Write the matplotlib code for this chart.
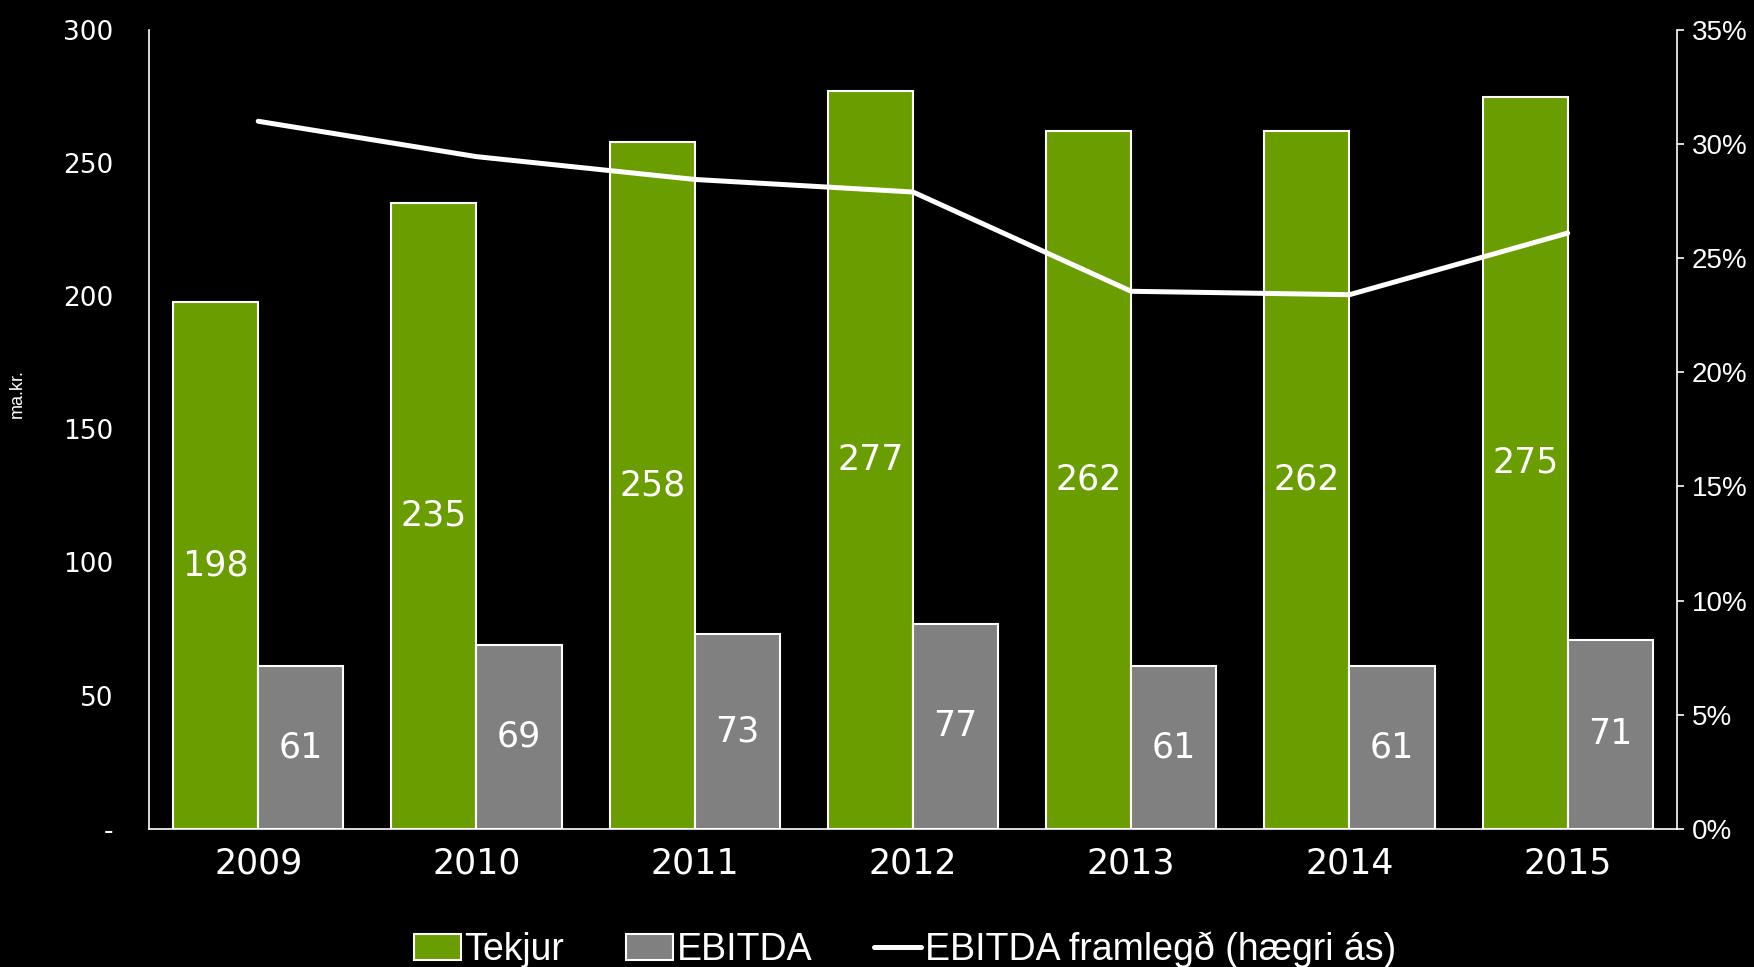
import matplotlib
matplotlib.use("Agg")
import matplotlib.pyplot as plt
import numpy as np
from matplotlib.ticker import FuncFormatter, MultipleLocator

years = ["2009", "2010", "2011", "2012", "2013", "2014", "2015"]
tekjur = [198, 235, 258, 277, 262, 262, 275]
ebitda = [61, 69, 73, 77, 61, 61, 71]
framlegd = [31.0, 29.45, 28.45, 27.9, 23.55, 23.4, 26.1]  # % (right axis)

GREEN = "#6a9e00"
GRAY = "#808080"
BG = "black"
FG = "white"

fig = plt.figure(figsize=(17.54, 9.67), dpi=100, facecolor=BG)
ax = fig.add_axes([0.085, 0.143, 0.871, 0.826])
ax.set_facecolor(BG)
ax2 = ax.twinx()

x = np.arange(len(years))
w = 0.39
b1 = ax.bar(x - w / 2, tekjur, w, color=GREEN, edgecolor=FG, lw=1.5, label="Tekjur", zorder=2)
b2 = ax.bar(x + w / 2, ebitda, w, color=GRAY, edgecolor=FG, lw=1.5, label="EBITDA", zorder=2)

for rects, vals in ((b1, tekjur), (b2, ebitda)):
    for r, v in zip(rects, vals):
        ax.text(r.get_x() + r.get_width() / 2, v / 2, str(v), ha="center", va="center",
                color=FG, fontsize=25, family="DejaVu Sans")

ln, = ax2.plot(x, framlegd, color=FG, lw=3.6, solid_capstyle="round",
               label="EBITDA framlegð (hægri ás)", zorder=3)

ax.set_xlim(-0.5, len(years) - 0.5)
ax.set_ylim(0, 300)
ax2.set_ylim(0, 35)
ax.yaxis.set_major_locator(MultipleLocator(50))
ax.yaxis.set_major_formatter(FuncFormatter(lambda v, p: "-" if v == 0 else f"{v:.0f}"))
ax2.yaxis.set_major_locator(MultipleLocator(5))
ax2.yaxis.set_major_formatter(FuncFormatter(lambda v, p: f"{v:.0f}%"))

ax.set_xticks(x)
ax.set_xticklabels(years)
ax.tick_params(axis="x", length=0, pad=13, labelsize=25, colors=FG)
ax.tick_params(axis="y", length=0, pad=26, labelsize=19, colors=FG)
for t in ax.get_yticklabels() + ax.get_xticklabels():
    t.set_family("DejaVu Sans")
ax2.tick_params(axis="y", length=5, width=1.2, pad=6, labelsize=20, colors=FG)
for t in ax2.get_yticklabels():
    t.set_family("Liberation Sans")

for a in (ax, ax2):
    a.spines["top"].set_visible(False)
    for s in ("left", "right", "bottom"):
        a.spines[s].set_color(FG)
        a.spines[s].set_linewidth(1.2)
ax.spines["right"].set_visible(False)
ax2.spines["left"].set_visible(False)
ax2.spines["bottom"].set_visible(False)

fig.text(0.0097, 0.593, "ma.kr.", rotation=90, ha="center", va="center",
         color=FG, fontsize=13, family="Liberation Sans")

leg = fig.legend(handles=[b1, b2, ln], loc="lower center", bbox_to_anchor=(0.516, -0.036),
                 ncol=3, frameon=False, handlelength=1.25, handletextpad=0.1,
                 columnspacing=1.65, prop={"family": "Liberation Sans", "size": 27})
for t in leg.get_texts():
    t.set_color(FG)

fig.savefig("out.png", facecolor=BG)
